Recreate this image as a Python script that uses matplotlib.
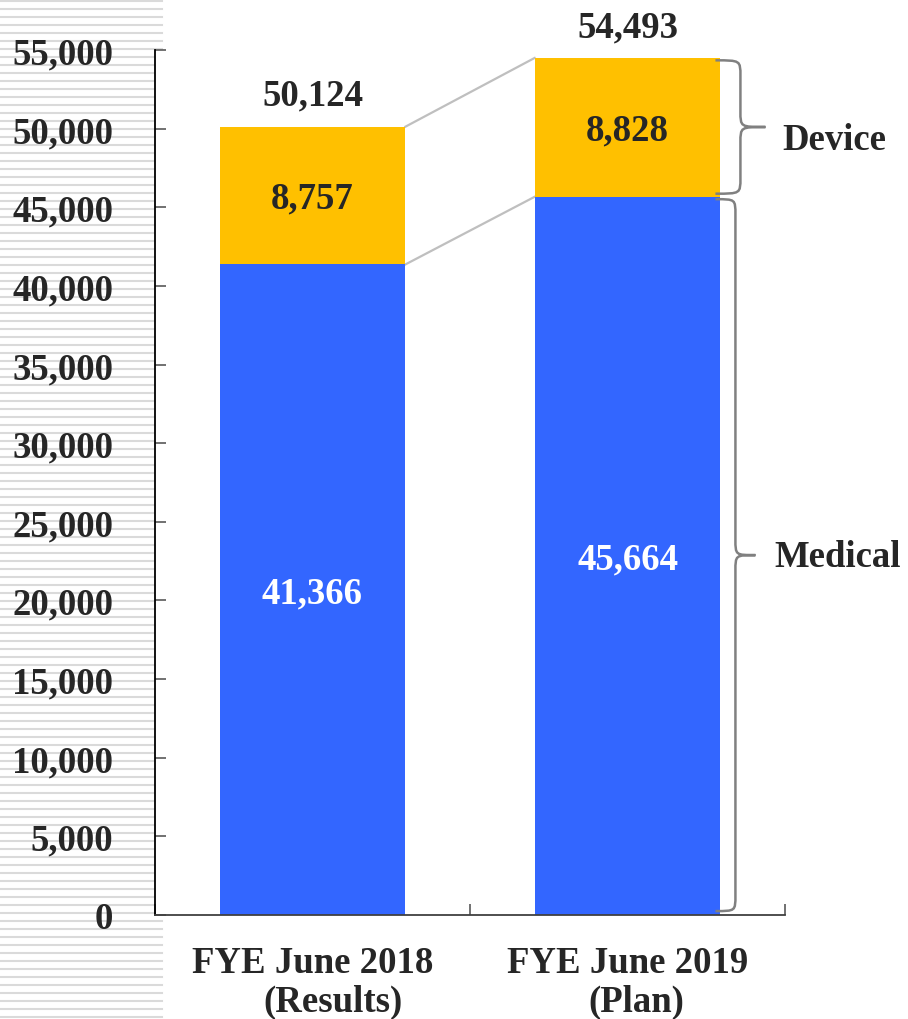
import matplotlib
matplotlib.use("Agg")
import matplotlib.pyplot as plt
from matplotlib.path import Path
from matplotlib.patches import PathPatch
from matplotlib.lines import Line2D
import numpy as np

categories_line1 = ["FYE June 2018", "FYE June 2019"]
categories_line2 = ["(Results)", "(Plan)"]
medical = [41366, 45664]
device = [8757, 8828]
totals = [50124, 54493]
yticks = [0, 5000, 10000, 15000, 20000, 25000, 30000, 35000, 40000, 45000, 50000, 55000]
segment_names = ["Medical", "Device"]

BLUE = "#3366FF"
GOLD = "#FFC000"
TXT = "#262626"
FS = 26.5
plt.rcParams['font.family'] = ['Liberation Serif', 'DejaVu Serif']
plt.rcParams['font.weight'] = 'bold'

W, H = 908, 1020
fig = plt.figure(figsize=(W / 100, H / 100), dpi=100)

# decorative stripes at left
for yp in np.arange(2, H, 8):
    fig.add_artist(Line2D([0, 162 / W], [1 - yp / H, 1 - yp / H], transform=fig.transFigure,
                          color="#dadada", lw=1.5, zorder=0))

ax = fig.add_axes([155 / W, 1 - 916 / H, 630 / W, (916 - 51) / H])
ax.set_zorder(1)
ax.patch.set_facecolor("white")

x = np.arange(len(medical))
bw = 0.59
ax.bar(x, medical, bw, color=BLUE, zorder=2)
ax.bar(x, device, bw, bottom=medical, color=GOLD, zorder=2)

ax.set_xlim(-0.5, 1.5)
ax.set_ylim(0, 55000)

# connectors
ax.plot([x[0] + bw / 2, x[1] - bw / 2], [totals[0], totals[1]], color="#bfbfbf", lw=1.6, zorder=1)
ax.plot([x[0] + bw / 2, x[1] - bw / 2], [medical[0], medical[1]], color="#bfbfbf", lw=1.6, zorder=1)

line2_shift = [15, 6]  # points
# labels
for i in range(2):
    ax.annotate(f"{medical[i]:,}", (x[i], medical[i] / 2), xytext=(0, -2), textcoords="offset points",
                ha="center", va="center", color="white", fontsize=FS, fontweight="bold")
    ax.annotate(f"{device[i]:,}", (x[i], medical[i] + device[i] / 2), xytext=(0, -2),
                textcoords="offset points", ha="center", va="center", color=TXT,
                fontsize=FS, fontweight="bold")
    ax.annotate(f"{totals[i]:,}", (x[i], totals[i]), xytext=(0, 22.5), textcoords="offset points",
                ha="center", va="center", color=TXT, fontsize=FS, fontweight="bold",
                annotation_clip=False)
    ax.annotate(categories_line1[i], (x[i], 0), xytext=(0, -34), textcoords="offset points",
                ha="center", va="center", color=TXT, fontsize=FS, fontweight="bold",
                annotation_clip=False)
    ax.annotate(categories_line2[i], (x[i], 0), xytext=(line2_shift[i], -62.5), textcoords="offset points",
                ha="center", va="center", color=TXT, fontsize=FS, fontweight="bold",
                annotation_clip=False)


def brace(x0, xv, xt, ytop, ybot, r):
    ym = (ytop + ybot) / 2
    verts = [
        (x0, ytop),
        (xv, ytop), (xv, ytop), (xv, ytop - r),
        (xv, ym + r),
        (xv, ym), (xv, ym), (xt, ym),
        (xv, ym), (xv, ym), (xv, ym - r),
        (xv, ybot + r),
        (xv, ybot), (xv, ybot), (x0, ybot),
    ]
    codes = [Path.MOVETO,
             Path.CURVE4, Path.CURVE4, Path.CURVE4,
             Path.LINETO,
             Path.CURVE4, Path.CURVE4, Path.CURVE4,
             Path.CURVE4, Path.CURVE4, Path.CURVE4,
             Path.LINETO,
             Path.CURVE4, Path.CURVE4, Path.CURVE4]
    p = PathPatch(Path(verts, codes), fill=False, edgecolor="#808080", lw=1.8, clip_on=False, zorder=3)
    ax.add_patch(p)
    return ym


px = 2 / 630  # data units per pixel in x
right = x[1] + bw / 2
ym_d = brace(right - 5 * px, right + 20 * px, right + 45 * px, totals[1] - 150, medical[1] + 200, 1000)
ym_m = brace(right - 5 * px, right + 15 * px, right + 35 * px, medical[1] - 150, 250, 1000)
ax.text(right + 62 * px, ym_d - 800, segment_names[1], ha="left", va="center", color=TXT,
        fontsize=FS, fontweight="bold", clip_on=False)
ax.text(right + 54 * px, ym_m - 100, segment_names[0], ha="left", va="center", color=TXT,
        fontsize=FS, fontweight="bold", clip_on=False)

# axes styling
ax.spines["top"].set_visible(False)
ax.spines["right"].set_visible(False)
ax.spines["left"].set_color("#000000")
ax.spines["bottom"].set_color("#404040")
ax.spines["left"].set_linewidth(1.3)
ax.spines["bottom"].set_linewidth(1.3)
ax.set_yticks(yticks)
ax.set_yticklabels([f"{v:,}" for v in yticks], fontsize=FS, fontweight="bold", color=TXT)
ax.tick_params(axis="y", direction="in", length=8, width=1.2, color="#595959", pad=30)
ax.set_xticks([-0.5, 0.5, 1.5])
ax.set_xticklabels([])
ax.tick_params(axis="x", direction="in", length=8, width=1.2, color="#595959")

fig.savefig("out.png", dpi=100)
